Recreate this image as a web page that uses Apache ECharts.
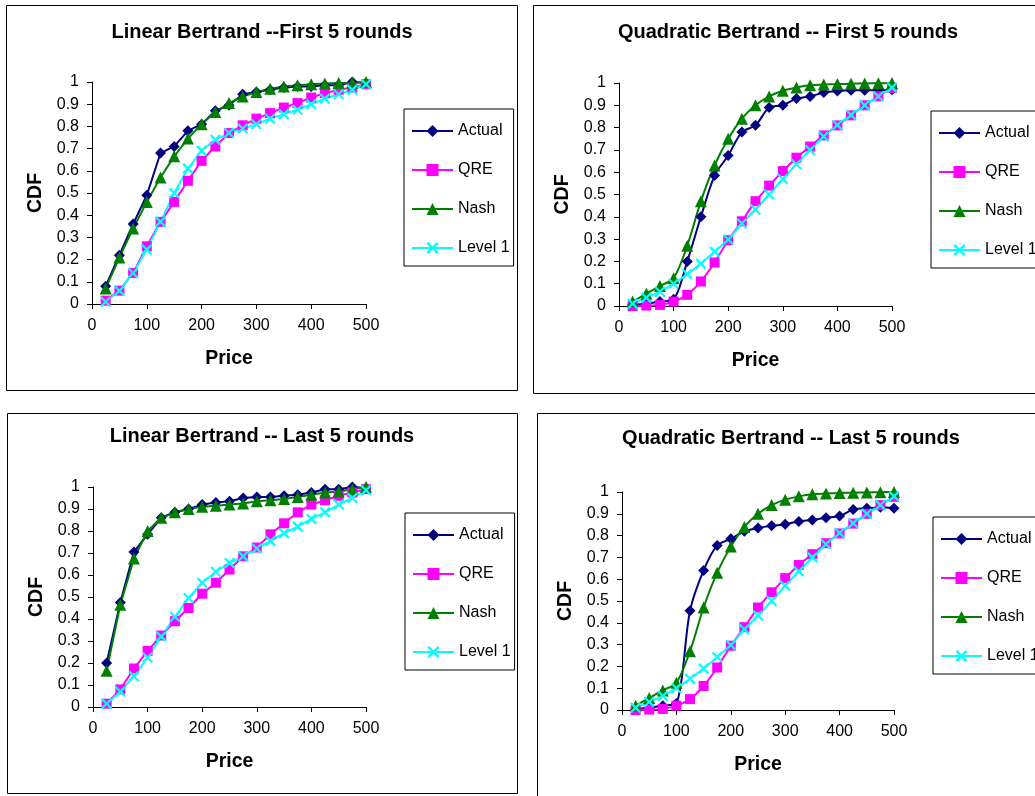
<!DOCTYPE html>
<html>
<head>
    <meta charset="utf-8">
    <script src="https://cdn.jsdelivr.net/npm/echarts@6/dist/echarts.min.js"></script>
    <style>html, body { margin: 0; padding: 0; background: #fff; }</style>
</head>
<body>
    <div id="main" style="width: 1035px;height:796px;"></div>
    <script type="text/javascript">
        var myChart = echarts.init(document.getElementById('main'));

        // prices on the x axis (same for every panel)
        var prices = [25, 50, 75, 100, 125, 150, 175, 200, 225, 250, 275, 300, 325, 350, 375, 400, 425, 450, 475, 500];
        var seriesNames = ['Actual', 'QRE', 'Nash', 'Level 1'];
        var panelTitles = ['Linear Bertrand --First 5 rounds', 'Quadratic Bertrand -- First 5 rounds',
                           'Linear Bertrand -- Last 5 rounds', 'Quadratic Bertrand -- Last 5 rounds'];
        var yTicks = [0, 0.1, 0.2, 0.3, 0.4, 0.5, 0.6, 0.7, 0.8, 0.9, 1];

        // Linear, first 5 rounds
        var linFirstActual = [0.08, 0.22, 0.36, 0.49, 0.68, 0.71, 0.78, 0.81, 0.87, 0.895, 0.945, 0.955, 0.965, 0.975, 0.98, 0.98, 0.985, 0.985, 1.0, 0.995];
        var linFirstQre    = [0.015, 0.06, 0.14, 0.26, 0.37, 0.46, 0.555, 0.645, 0.71, 0.77, 0.805, 0.835, 0.86, 0.885, 0.905, 0.93, 0.95, 0.965, 0.975, 0.99];
        var linFirstNash   = [0.07, 0.21, 0.34, 0.46, 0.57, 0.665, 0.745, 0.81, 0.865, 0.905, 0.935, 0.955, 0.97, 0.98, 0.985, 0.99, 0.993, 0.995, 0.997, 1.0];
        var linFirstLevel1 = [0.01, 0.06, 0.14, 0.245, 0.37, 0.5, 0.61, 0.69, 0.74, 0.77, 0.79, 0.81, 0.835, 0.855, 0.875, 0.9, 0.925, 0.945, 0.965, 0.99];

        // Linear, last 5 rounds
        var linLastActual = [0.2, 0.475, 0.705, 0.785, 0.86, 0.885, 0.9, 0.92, 0.93, 0.935, 0.95, 0.955, 0.955, 0.96, 0.965, 0.975, 0.99, 0.99, 1.0, 0.995];
        var linLastQre    = [0.015, 0.08, 0.175, 0.255, 0.325, 0.39, 0.45, 0.515, 0.565, 0.625, 0.685, 0.725, 0.785, 0.835, 0.885, 0.92, 0.94, 0.96, 0.975, 0.99];
        var linLastNash   = [0.165, 0.465, 0.675, 0.8, 0.86, 0.885, 0.9, 0.91, 0.915, 0.92, 0.925, 0.935, 0.94, 0.945, 0.955, 0.965, 0.975, 0.98, 0.99, 1.0];
        var linLastLevel1 = [0.015, 0.07, 0.14, 0.225, 0.32, 0.41, 0.495, 0.565, 0.615, 0.655, 0.685, 0.72, 0.755, 0.79, 0.82, 0.855, 0.885, 0.92, 0.95, 0.985];

        // Quadratic: the model curves are the same in both panels
        var quadQre    = [0.0, 0.002, 0.005, 0.02, 0.05, 0.11, 0.195, 0.295, 0.38, 0.47, 0.54, 0.605, 0.665, 0.715, 0.765, 0.81, 0.855, 0.9, 0.94, 0.978];
        var quadNash   = [0.02, 0.055, 0.09, 0.125, 0.27, 0.47, 0.63, 0.75, 0.84, 0.9, 0.94, 0.965, 0.98, 0.99, 0.993, 0.995, 0.997, 0.998, 0.999, 1.0];
        var quadLevel1 = [0.01, 0.037, 0.064, 0.1, 0.143, 0.19, 0.243, 0.298, 0.37, 0.433, 0.5, 0.57, 0.636, 0.7, 0.76, 0.812, 0.857, 0.9, 0.94, 0.98];
        var quadFirstActual = [0.005, 0.01, 0.02, 0.03, 0.2, 0.4, 0.585, 0.675, 0.78, 0.81, 0.89, 0.9, 0.93, 0.94, 0.957, 0.964, 0.967, 0.967, 0.967, 0.97];
        var quadLastActual  = [0.005, 0.01, 0.02, 0.03, 0.455, 0.64, 0.755, 0.785, 0.82, 0.835, 0.845, 0.852, 0.865, 0.872, 0.882, 0.89, 0.92, 0.925, 0.93, 0.925];

        var panelData = [
            [linFirstActual, linFirstQre, linFirstNash, linFirstLevel1],
            [quadFirstActual, quadQre, quadNash, quadLevel1],
            [linLastActual, linLastQre, linLastNash, linLastLevel1],
            [quadLastActual, quadQre, quadNash, quadLevel1]
        ];
        var smoothPanel = [false, 0.3, false, 0.3];

        var FONT = '"Liberation Sans", Arial, sans-serif';
        var X_PATH = 'path://M0,1.4 L1.4,0 L5,3.6 L8.6,0 L10,1.4 L6.4,5 L10,8.6 L8.6,10 L5,6.4 L1.4,10 L0,8.6 L3.6,5 Z';
        var styles = {
            'Actual':  { color: '#000080', symbol: 'diamond', size: 11 },
            'QRE':     { color: '#ff00ff', symbol: 'rect', size: 10 },
            'Nash':    { color: '#008000', symbol: 'triangle', size: 12 },
            'Level 1': { color: '#00ffff', symbol: X_PATH, size: 11 }
        };

        // layout of the four panels
        var grids = [
            { left: 92, top: 82, width: 274, height: 222 },
            { left: 619, top: 83, width: 273, height: 223 },
            { left: 93, top: 487, width: 273, height: 220 },
            { left: 622, top: 492, width: 272, height: 218 }
        ];
        var titlePos = [[262, 32], [788, 32], [262, 436], [791, 438]];
        var legendPos = [[404, 109], [931, 111], [405, 513], [933, 517]];
        var frames = [[6, 5, 511, 385], [533, 5, 520, 388], [7, 413, 510, 380], [537, 413, 520, 400]];

        var axisText = { color: '#000', fontSize: 16, fontFamily: FONT };
        var axisLine = { show: true, lineStyle: { color: '#000', width: 1 } };
        var axisTick = { show: true, length: 5, lineStyle: { color: '#000' } };

        var xAxes = [], yAxes = [], titles = [], legends = [], series = [];
        for (var i = 0; i < 4; i++) {
            titles.push({
                text: panelTitles[i],
                left: titlePos[i][0], top: titlePos[i][1],
                textAlign: 'center', textVerticalAlign: 'middle', padding: 0,
                textStyle: { fontSize: 20, fontWeight: 'bold', color: '#000', fontFamily: FONT }
            });
            xAxes.push({
                type: 'value', gridIndex: i, min: 0, max: 500, interval: 100,
                name: 'Price', nameLocation: 'middle', nameGap: 45,
                nameTextStyle: { fontSize: 19.5, fontWeight: 'bold', color: '#000', fontFamily: FONT },
                axisLine: axisLine, axisTick: axisTick, splitLine: { show: false },
                axisLabel: Object.assign({ margin: 14 }, axisText)
            });
            yAxes.push({
                type: 'value', gridIndex: i, min: 0, max: 1, interval: 0.1,
                name: 'CDF', nameLocation: 'middle', nameGap: 46,
                nameTextStyle: { fontSize: 19.5, fontWeight: 'bold', color: '#000', fontFamily: FONT },
                axisLine: axisLine, axisTick: axisTick, splitLine: { show: false },
                axisLabel: Object.assign({ margin: 13, formatter: function (v) {
                    var t = yTicks.reduce(function (a, b) { return Math.abs(b - v) < Math.abs(a - v) ? b : a; });
                    return String(t);
                } }, axisText)
            });
            legends.push({
                orient: 'vertical', left: legendPos[i][0], top: legendPos[i][1],
                padding: [14, 4, 10, 7], itemGap: 23, itemWidth: 41, itemHeight: 15,
                borderColor: '#000', borderWidth: 1, backgroundColor: '#fff',
                textStyle: { fontSize: 16, color: '#000', fontFamily: FONT, lineHeight: 14 },
                data: seriesNames
            });
            for (var s = 0; s < 4; s++) {
                var name = seriesNames[s];
                var st = styles[name];
                var vals = panelData[i][s];
                series.push({
                    name: name, type: 'line',
                    xAxisIndex: i, yAxisIndex: i,
                    data: prices.map(function (p, k) { return [p, vals[k]]; }),
                    smooth: smoothPanel[i],
                    symbol: st.symbol, symbolSize: st.size, showAllSymbol: true,
                    itemStyle: { color: st.color },
                    lineStyle: { color: st.color, width: 2 },
                    emphasis: { disabled: true }
                });
            }
        }

        var option = {
            backgroundColor: '#fff',
            animation: false,
            title: titles,
            legend: legends,
            grid: grids,
            xAxis: xAxes,
            yAxis: yAxes,
            series: series,
            graphic: {
                elements: frames.map(function (f) {
                    return {
                        type: 'rect', silent: true,
                        shape: { x: f[0] + 0.5, y: f[1] + 0.5, width: f[2], height: f[3] },
                        style: { fill: 'none', stroke: '#000', lineWidth: 1 }
                    };
                })
            }
        };

        myChart.setOption(option);
    </script>
</body>
</html>
